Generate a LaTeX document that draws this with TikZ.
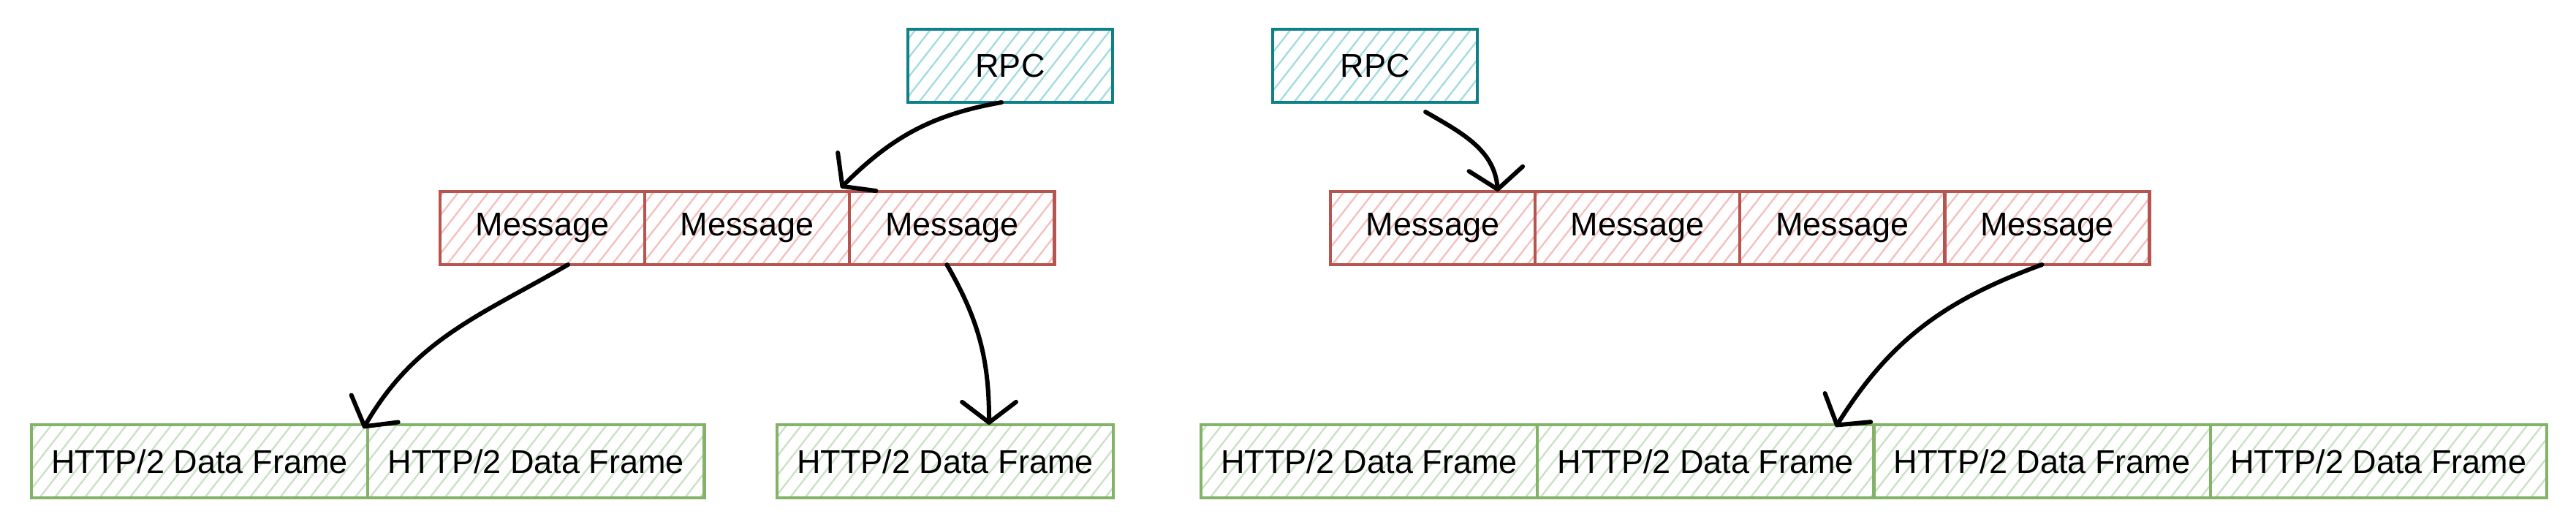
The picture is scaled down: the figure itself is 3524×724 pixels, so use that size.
\documentclass[tikz,border=0pt]{standalone}
\usepackage{fontspec}
\setmainfont{Liberation Sans}
\usetikzlibrary{positioning,arrows.meta,patterns.meta}
\definecolor{rpcline}{HTML}{0E8088}
\definecolor{rpcfill}{HTML}{A6DDE0}
\definecolor{msgline}{HTML}{B85450}
\definecolor{msgfill}{HTML}{F4C2C0}
\definecolor{frmline}{HTML}{82B366}
\definecolor{frmfill}{HTML}{CBE2C8}
\begin{document}
\begin{tikzpicture}[x=0.01cm,y=-0.01cm,
  box/.style={rectangle, line width=1.2pt, inner sep=0pt, outer sep=0pt, minimum height=1cm,
    font=\fontsize{12.8pt}{15pt}\selectfont,
    pattern={Lines[angle=52,distance=4.6pt,line width=0.7pt]}},
  rpc/.style={box, draw=rpcline, pattern color=rpcfill, minimum width=2.8cm},
  msg/.style={box, draw=msgline, pattern color=msgfill, minimum width=2.8cm},
  frm/.style={box, draw=frmline, pattern color=frmfill, minimum width=4.6cm},
  link/.style={line width=1.7pt, line cap=round, -{Straight Barb[length=8pt,width=21pt,round]}}]
\useasboundingbox (0,0) rectangle (3524,724);
\node[rpc] (rpcA) at (1382,90) {RPC};
\node[rpc] (rpcB) at (1881,90) {RPC};
\node[msg] (mA1) at (742,312) {Message};
\node[msg, right=0pt of mA1] (mA2) {Message};
\node[msg, right=0pt of mA2] (mA3) {Message};
\node[msg] (mB1) at (1960,312) {Message};
\node[msg, right=0pt of mB1] (mB2) {Message};
\node[msg, right=0pt of mB2] (mB3) {Message};
\node[msg, right=0pt of mB3] (mB4) {Message};
\node[frm] (fA1) at (273,631) {HTTP/2 Data Frame};
\node[frm, right=0pt of fA1] (fA2) {HTTP/2 Data Frame};
\node[frm] (fB) at (1293,631) {HTTP/2 Data Frame};
\node[frm] (fC1) at (1873,631) {HTTP/2 Data Frame};
\node[frm, right=0pt of fC1] (fC2) {HTTP/2 Data Frame};
\node[frm, right=0pt of fC2] (fC3) {HTTP/2 Data Frame};
\node[frm, right=0pt of fC3] (fC4) {HTTP/2 Data Frame};
\draw[link] ([xshift=-0.12cm]rpcA.south) to[out=190,in=45] ([xshift=-0.12cm,yshift=0.05cm]mA2.north east);
\draw[link] ([xshift=0.35cm]mA1.south) to[out=210,in=60] ([xshift=-0.06cm,yshift=-0.05cm]fA1.north east);
\draw[link] ([xshift=-0.07cm]mA3.south) to[out=-60,in=90] ([xshift=0.6cm]fB.north);
\draw[link] ([xshift=0.69cm,yshift=-0.13cm]rpcB.south) to[out=-30,in=95] ([xshift=0.89cm]mB1.north);
\draw[link] ([xshift=-0.07cm]mB4.south) to[out=200,in=58] ([xshift=1.78cm,yshift=-0.03cm]fC2.north);
\end{tikzpicture}
\end{document}
